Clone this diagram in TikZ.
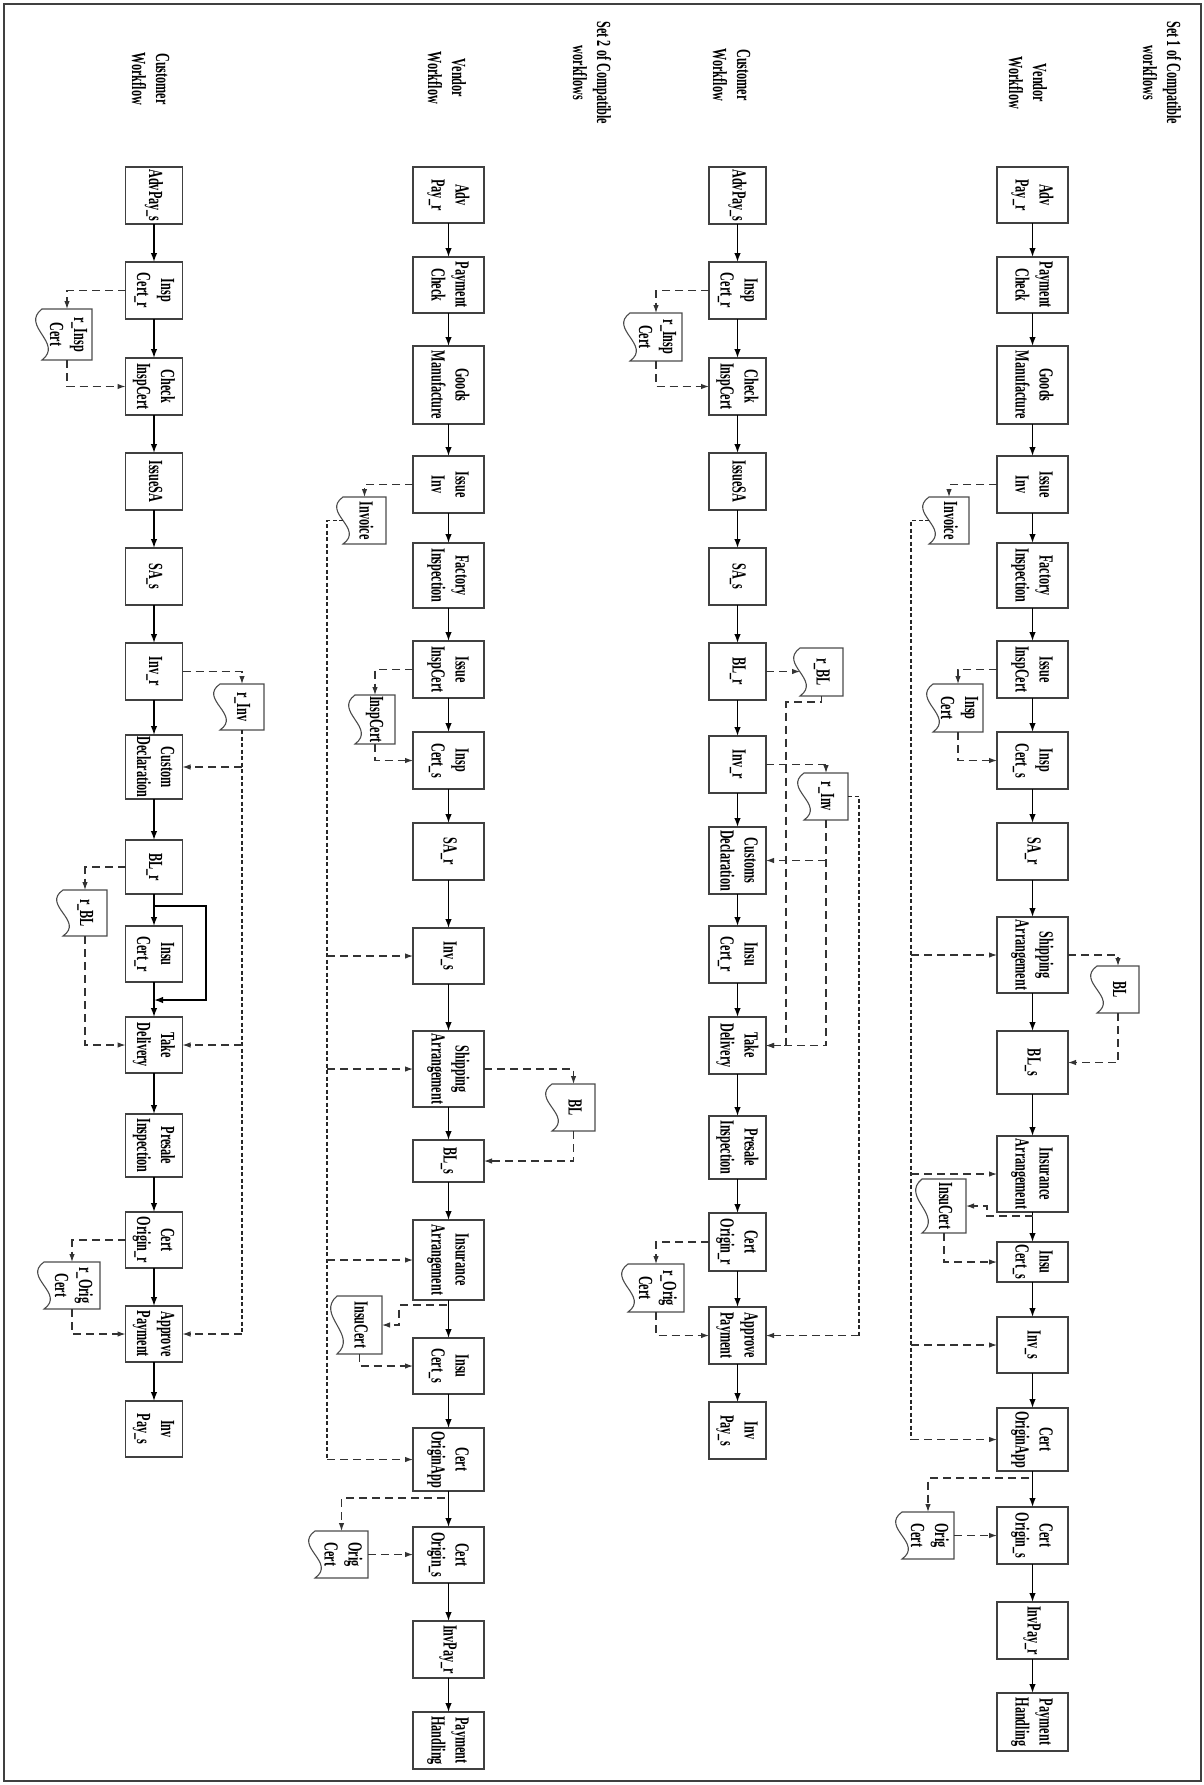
\documentclass[tikz,border=0pt]{standalone}
\usepackage{fontspec}
\setmainfont{Liberation Serif}[FakeStretch=0.61]
\usepackage{graphicx}
\usetikzlibrary{arrows.meta,calc}
\newcommand{\rtx}[1]{\rotatebox{-90}{\begin{tabular}{@{}c@{}}#1\end{tabular}}}
\newcommand{\docsh}[1]{\draw[docline] (#1.north west) -- (#1.north east) -- (#1.south east) -- (#1.south west) .. controls ($(#1.south west)!0.33!(#1.north west)+(22,0)$) and ($(#1.south west)!0.67!(#1.north west)+(-22,0)$) .. (#1.north west) -- cycle;}
\begin{document}
\begin{tikzpicture}[x=1pt,y=-1pt,
 box/.style={draw=black!75, line width=1.2pt, rectangle, inner sep=0pt, outer sep=0pt, fill=white},
 vbox/.style={box, minimum width=71},
 cbox/.style={box, minimum width=57},
 docn/.style={rectangle, inner sep=0pt, outer sep=0pt},
 docline/.style={draw=black!70, line width=1.1pt},
 flow/.style={draw=black, line width=1.4pt, -{Latex[length=9pt,width=6.5pt]}},
 dflow/.style={draw=black!80, line width=1.1pt, dash pattern=on 8pt off 5pt, -{Latex[length=8pt,width=5.5pt]}},
 trunk/.style={draw=black!85, line width=1.4pt, dash pattern=on 4pt off 2.5pt},
 lbl/.style={inner sep=0pt},
 every node/.style={font=\fontsize{20}{24}\selectfont\bfseries}]
\useasboundingbox (0,0) rectangle (1203,1785);
\draw[line width=2pt, black!75] (3.5,4) rectangle (1200.5,1781);

% ---------- labels ----------
\node[lbl] (s1) at (1160,73) {\rtx{Set 1 of Compatible\\workflows}};
\node[lbl] (s1v) at (1026,83) {\rtx{Vendor\\Workflow}};
\node[lbl] (s1c) at (730,75) {\rtx{Customer\\Workflow}};
\node[lbl] (s2) at (590,73) {\rtx{Set 2 of Compatible\\workflows}};
\node[lbl] (s2v) at (445,78) {\rtx{Vendor\\Workflow}};
\node[lbl] (s2c) at (149,79) {\rtx{Customer\\Workflow}};

% ---------- Set 1 vendor ----------
\node[vbox, minimum height=56] (v1a) at (1032.5,195) {\rtx{Adv\\Pay\_r}};
\node[vbox, minimum height=56] (v1b) at (1032.5,285) {\rtx{Payment\\Check}};
\node[vbox, minimum height=78] (v1c) at (1032.5,385) {\rtx{Goods\\Manufacture}};
\node[vbox, minimum height=57] (v1d) at (1032.5,484.5) {\rtx{Issue\\Inv}};
\node[vbox, minimum height=65] (v1e) at (1032.5,575.5) {\rtx{Factory\\Inspection}};
\node[vbox, minimum height=57] (v1f) at (1032.5,669.5) {\rtx{Issue\\InspCert}};
\node[vbox, minimum height=57] (v1g) at (1032.5,760.5) {\rtx{Insp\\Cert\_s}};
\node[vbox, minimum height=57] (v1h) at (1032.5,851.5) {\rtx{SA\_r}};
\node[vbox, minimum height=76] (v1i) at (1032.5,955) {\rtx{Shipping\\Arrangement}};
\node[vbox, minimum height=63] (v1j) at (1032.5,1062.5) {\rtx{BL\_s}};
\node[vbox, minimum height=76] (v1k) at (1032.5,1174) {\rtx{Insurance\\Arrangement}};
\node[vbox, minimum height=40] (v1l) at (1032.5,1262) {\rtx{Insu\\Cert\_s}};
\node[vbox, minimum height=56] (v1m) at (1032.5,1345) {\rtx{Inv\_s}};
\node[vbox, minimum height=63] (v1n) at (1032.5,1439.5) {\rtx{Cert\\OriginApp}};
\node[vbox, minimum height=57] (v1o) at (1032.5,1535.5) {\rtx{Cert\\Origin\_s}};
\node[vbox, minimum height=57] (v1p) at (1032.5,1630.5) {\rtx{InvPay\_r}};
\node[vbox, minimum height=58] (v1q) at (1032.5,1722) {\rtx{Payment\\Handling}};
\foreach \a/\b in {v1a/v1b,v1b/v1c,v1c/v1d,v1d/v1e,v1e/v1f,v1f/v1g,v1g/v1h,v1h/v1i,v1i/v1j,v1j/v1k,v1k/v1l,v1l/v1m,v1m/v1n,v1n/v1o,v1o/v1p,v1p/v1q}
  \draw[flow] (\a) -- (\b);

\node[docn, minimum width=40, minimum height=47] (d1a) at (949,520.5) {\rtx{Invoice}};
\node[docn, minimum width=50, minimum height=48] (d1b) at (958,708) {\rtx{Insp\\Cert}};
\node[docn, minimum width=42, minimum height=47] (d1c) at (1118,989.5) {\rtx{BL}};
\node[docn, minimum width=44, minimum height=54] (d1d) at (944,1206) {\rtx{InsuCert}};
\node[docn, minimum width=52, minimum height=47] (d1e) at (928,1535.5) {\rtx{Orig\\Cert}};
\foreach \d in {d1a,d1b,d1c,d1d,d1e} {\docsh{\d}}

\draw[dflow] (v1d.west) -| (d1a.north);
\draw[trunk] (d1a.west) -- ++(-18,0) coordinate (t1) -- (t1 |- v1n.west);
\foreach \b in {v1i,v1k,v1m,v1n} \draw[dflow] (t1 |- \b.west) -- (\b.west);
\draw[dflow] (v1f.west) -| (d1b.north);
\draw[dflow] (d1b.south) |- (v1g.west);
\draw[dflow] (v1i.east) -| (d1c.north);
\draw[dflow] (d1c.south) |- (v1j.east);
\draw[dflow] ($(v1k.south)+(0,4)$) -| ($(d1d.east)+(21,0)$) -- (d1d.east);
\draw[dflow] (d1d.south) |- (v1l.west);
\draw[dflow] ($(v1n.south)+(-4,7)$) -| (d1e.north);
\draw[dflow] (d1e.east) -- (d1e.east -| v1o.west);

% ---------- Set 1 customer ----------
\node[cbox, minimum height=57] (c1a) at (737.5,195.5) {\rtx{AdvPay\_s}};
\node[cbox, minimum height=57] (c1b) at (737.5,290.5) {\rtx{Insp\\Cert\_r}};
\node[cbox, minimum height=57] (c1c) at (737.5,386.5) {\rtx{Check\\InspCert}};
\node[cbox, minimum height=57] (c1d) at (737.5,481.5) {\rtx{IssueSA}};
\node[cbox, minimum height=57] (c1e) at (737.5,576.5) {\rtx{SA\_s}};
\node[cbox, minimum height=57] (c1f) at (737.5,671.5) {\rtx{BL\_r}};
\node[cbox, minimum height=57] (c1g) at (737.5,764.5) {\rtx{Inv\_r}};
\node[cbox, minimum height=67] (c1h) at (737.5,860.5) {\rtx{Customs\\Declaration}};
\node[cbox, minimum height=57] (c1i) at (737.5,954.5) {\rtx{Insu\\Cert\_r}};
\node[cbox, minimum height=57] (c1j) at (737.5,1045.5) {\rtx{Take\\Delivery}};
\node[cbox, minimum height=63] (c1k) at (737.5,1147.5) {\rtx{Presale\\Inspection}};
\node[cbox, minimum height=58] (c1l) at (737.5,1242) {\rtx{Cert\\Origin\_r}};
\node[cbox, minimum height=57] (c1m) at (737.5,1335.5) {\rtx{Approve\\Payment}};
\node[cbox, minimum height=57] (c1n) at (737.5,1430.5) {\rtx{Inv\\Pay\_s}};
\foreach \a/\b in {c1a/c1b,c1b/c1c,c1c/c1d,c1d/c1e,c1e/c1f,c1f/c1g,c1g/c1h,c1h/c1i,c1i/c1j,c1j/c1k,c1k/c1l,c1l/c1m,c1m/c1n}
  \draw[flow] (\a) -- (\b);

\node[docn, minimum width=52, minimum height=48] (d1f) at (656,337) {\rtx{r\_Insp\\Cert}};
\node[docn, minimum width=43, minimum height=48] (d1g) at (821.5,672) {\rtx{r\_BL}};
\node[docn, minimum width=44, minimum height=47] (d1h) at (826,796.5) {\rtx{r\_Inv}};
\node[docn, minimum width=56, minimum height=48] (d1i) at (656,1288) {\rtx{r\_Orig\\Cert}};
\foreach \d in {d1f,d1g,d1h,d1i} {\docsh{\d}}

\draw[dflow] (c1b.west) -| (d1f.north);
\draw[dflow] (d1f.south) |- (c1c.west);
\draw[dflow] (c1f.east) -- (c1f.east -| d1g.west);
\draw[dflow] (d1g.south) -- ++(0,6) -| ($(c1j.east)+(20,0)$) -- (c1j.east);
\draw[dflow] (c1g.east) -| (d1h.north);
\draw[dflow] (d1h.south) |- (c1j.east);
\draw[dflow] (d1h.south |- c1h.east) -- (c1h.east);
\draw[trunk] (d1h.east) -- ++(11,0) coordinate (t2) -- (t2 |- c1m.east);
\draw[dflow] (t2 |- c1m.east) -- (c1m.east);
\draw[dflow] (c1l.west) -| (d1i.north);
\draw[dflow] (d1i.south) |- (c1m.west);

% ---------- Set 2 vendor ----------
\node[vbox, minimum height=56] (v2a) at (448.5,195) {\rtx{Adv\\Pay\_r}};
\node[vbox, minimum height=56] (v2b) at (448.5,285) {\rtx{Payment\\Check}};
\node[vbox, minimum height=78] (v2c) at (448.5,385) {\rtx{Goods\\Manufacture}};
\node[vbox, minimum height=57] (v2d) at (448.5,484.5) {\rtx{Issue\\Inv}};
\node[vbox, minimum height=65] (v2e) at (448.5,575.5) {\rtx{Factory\\Inspection}};
\node[vbox, minimum height=57] (v2f) at (448.5,669.5) {\rtx{Issue\\InspCert}};
\node[vbox, minimum height=57] (v2g) at (448.5,760.5) {\rtx{Insp\\Cert\_s}};
\node[vbox, minimum height=57] (v2h) at (448.5,851.5) {\rtx{SA\_r}};
\node[vbox, minimum height=56] (v2i) at (448.5,956) {\rtx{Inv\_s}};
\node[vbox, minimum height=76] (v2j) at (448.5,1069) {\rtx{Shipping\\Arrangement}};
\node[vbox, minimum height=42] (v2k) at (448.5,1161) {\rtx{BL\_s}};
\node[vbox, minimum height=80] (v2l) at (448.5,1260) {\rtx{Insurance\\Arrangement}};
\node[vbox, minimum height=56] (v2m) at (448.5,1366) {\rtx{Insu\\Cert\_s}};
\node[vbox, minimum height=63] (v2n) at (448.5,1459.5) {\rtx{Cert\\OriginApp}};
\node[vbox, minimum height=56] (v2o) at (448.5,1555) {\rtx{Cert\\Origin\_s}};
\node[vbox, minimum height=57] (v2p) at (448.5,1649.5) {\rtx{InvPay\_r}};
\node[vbox, minimum height=57] (v2q) at (448.5,1740.5) {\rtx{Payment\\Handling}};
\foreach \a/\b in {v2a/v2b,v2b/v2c,v2c/v2d,v2d/v2e,v2e/v2f,v2f/v2g,v2g/v2h,v2h/v2i,v2i/v2j,v2j/v2k,v2k/v2l,v2l/v2m,v2m/v2n,v2n/v2o,v2o/v2p,v2p/v2q}
  \draw[flow] (\a) -- (\b);

\node[docn, minimum width=43, minimum height=47] (d2a) at (364.5,520.5) {\rtx{Invoice}};
\node[docn, minimum width=40, minimum height=49] (d2b) at (375,719.5) {\rtx{InspCert}};
\node[docn, minimum width=43, minimum height=47] (d2c) at (573.5,1107.5) {\rtx{BL}};
\node[docn, minimum width=45, minimum height=58] (d2d) at (359.5,1325) {\rtx{InsuCert}};
\node[docn, minimum width=53, minimum height=47] (d2e) at (341.5,1554.5) {\rtx{Orig\\Cert}};
\foreach \d in {d2a,d2b,d2c,d2d,d2e} {\docsh{\d}}

\draw[dflow] (v2d.west) -| (d2a.north);
\draw[trunk] (d2a.west) -- ++(-16,0) coordinate (t3) -- (t3 |- v2n.west);
\foreach \b in {v2i,v2j,v2l,v2n} \draw[dflow] (t3 |- \b.west) -- (\b.west);
\draw[dflow] (v2f.west) -| (d2b.north);
\draw[dflow] (d2b.south) |- (v2g.west);
\draw[dflow] (v2j.east) -| (d2c.north);
\draw[dflow] (d2c.south) |- (v2k.east);
\draw[dflow] ($(v2l.south)+(-2,5)$) -| ($(d2d.east)+(17,0)$) -- (d2d.east);
\draw[dflow] (d2d.south) |- (v2m.west);
\draw[dflow] ($(v2n.south)+(-4,7)$) -| (d2e.north);
\draw[dflow] (d2e.east) -- (d2e.east -| v2o.west);

% ---------- Set 2 customer ----------
\node[cbox, minimum height=57] (c2a) at (154,195.5) {\rtx{AdvPay\_s}};
\node[cbox, minimum height=57] (c2b) at (154,290.5) {\rtx{Insp\\Cert\_r}};
\node[cbox, minimum height=57] (c2c) at (154,386.5) {\rtx{Check\\InspCert}};
\node[cbox, minimum height=57] (c2d) at (154,481.5) {\rtx{IssueSA}};
\node[cbox, minimum height=57] (c2e) at (154,576.5) {\rtx{SA\_s}};
\node[cbox, minimum height=57] (c2f) at (154,671.5) {\rtx{Inv\_r}};
\node[cbox, minimum height=64] (c2g) at (154,767) {\rtx{Custom\\Declaration}};
\node[cbox, minimum height=54] (c2h) at (154,867) {\rtx{BL\_r}};
\node[cbox, minimum height=56] (c2i) at (154,954) {\rtx{Insu\\Cert\_r}};
\node[cbox, minimum height=56] (c2j) at (154,1045) {\rtx{Take\\Delivery}};
\node[cbox, minimum height=63] (c2k) at (154,1145.5) {\rtx{Presale\\Inspection}};
\node[cbox, minimum height=56] (c2l) at (154,1240) {\rtx{Cert\\Origin\_r}};
\node[cbox, minimum height=56] (c2m) at (154,1334) {\rtx{Approve\\Payment}};
\node[cbox, minimum height=56] (c2n) at (154,1429) {\rtx{Inv\\Pay\_s}};
\foreach \a/\b in {c2a/c2b,c2b/c2c,c2c/c2d,c2d/c2e,c2e/c2f,c2f/c2g,c2g/c2h,c2h/c2i,c2i/c2j,c2j/c2k,c2k/c2l,c2l/c2m,c2m/c2n}
  \draw[flow] (\a) -- (\b);
\draw[flow] ($(c2h.south)+(0,12)$) -- ++(52,0) |- ($(c2i.south)+(0,18)$);

\node[docn, minimum width=50, minimum height=51] (d2f) at (67,334.5) {\rtx{r\_Insp\\Cert}};
\node[docn, minimum width=44, minimum height=46] (d2g) at (242,707) {\rtx{r\_Inv}};
\node[docn, minimum width=44, minimum height=46] (d2h) at (85,913) {\rtx{r\_BL}};
\node[docn, minimum width=56, minimum height=47] (d2i) at (72,1285.5) {\rtx{r\_Orig\\Cert}};
\foreach \d in {d2f,d2g,d2h,d2i} {\docsh{\d}}

\draw[dflow] (c2b.west) -| (d2f.north);
\draw[dflow] (d2f.south) |- (c2c.west);
\draw[dflow] (c2f.east) -| (d2g.north);
\draw[trunk] (d2g.south) -- (d2g.south |- c2m.east);
\foreach \b in {c2g,c2j,c2m} \draw[dflow] (d2g.south |- \b.east) -- (\b.east);
\draw[dflow] (c2h.west) -| (d2h.north);
\draw[dflow] (d2h.south) |- (c2j.west);
\draw[dflow] (c2l.west) -| (d2i.north);
\draw[dflow] (d2i.south) |- (c2m.west);
\end{tikzpicture}
\end{document}
